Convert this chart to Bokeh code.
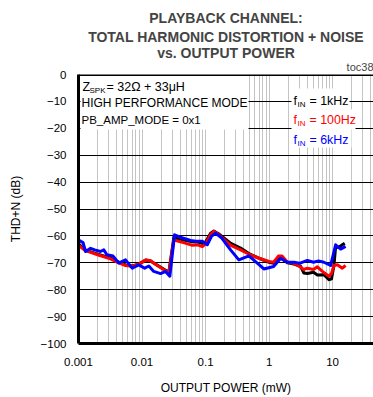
from bokeh.plotting import figure
from bokeh.models import FixedTicker, Span, Label, BoxAnnotation, Title
from bokeh.embed import file_html
from bokeh.resources import INLINE

# ---------------- data ----------------
x_1k = [0.001, 0.00129, 0.002, 0.003, 0.0043, 0.0055, 0.007, 0.0089, 0.0114, 0.0135,
        0.0163, 0.0264, 0.0317, 0.045, 0.062, 0.075, 0.089, 0.1, 0.12, 0.135,
        0.16, 0.25, 0.356, 0.5, 0.73, 1.0, 1.18, 1.4, 1.6, 1.94,
        2.46, 3.13, 3.53, 4.0, 5.0, 5.75, 7.3, 8.75, 9.6, 10.5,
        11.15, 12.5, 14.2, 15.5]
y_1k = [-63.0, -65.3, -66.8, -68.0, -69.7, -70.8, -71.2, -70.5, -69.0, -69.2,
        -70.5, -73.5, -60.5, -61.5, -62.2, -62.3, -62.8, -62.3, -59.0, -58.2,
        -59.2, -62.8, -64.5, -66.8, -68.5, -69.8, -70.2, -68.0, -68.5, -70.0,
        -70.5, -71.3, -73.8, -74.0, -73.5, -74.5, -74.4, -76.3, -76.0, -71.0,
        -64.0, -64.2, -63.3, -62.7]

x_100 = [0.001, 0.00129, 0.002, 0.003, 0.0043, 0.0055, 0.007, 0.0089, 0.0114, 0.0135,
         0.0163, 0.0264, 0.0317, 0.045, 0.062, 0.075, 0.089, 0.1, 0.12, 0.135,
         0.16, 0.25, 0.356, 0.5, 0.73, 1.0, 1.18, 1.4, 1.6, 1.94,
         2.46, 3.1, 3.5, 4.0, 5.0, 5.75, 6.9, 8.75, 9.6, 10.5,
         11.9, 14.2, 16.0]
y_100 = [-63.5, -65.5, -67.0, -68.3, -70.0, -71.0, -71.3, -70.5, -69.0, -69.2,
         -70.5, -73.8, -61.5, -62.5, -63.5, -63.3, -64.0, -63.0, -59.5, -58.3,
         -59.5, -63.5, -65.2, -67.0, -68.5, -69.5, -69.8, -67.5, -67.5, -69.8,
         -70.2, -71.5, -72.5, -72.0, -72.5, -71.5, -73.2, -75.0, -74.0, -71.0,
         -70.7, -72.0, -71.0]

x_6k = [0.001, 0.00118, 0.00129, 0.00155, 0.0018, 0.00222, 0.0025, 0.0028, 0.0035, 0.0043,
        0.0055, 0.007, 0.0089, 0.011, 0.0128, 0.0153, 0.0196, 0.0234, 0.0274, 0.0325,
        0.04, 0.058, 0.07, 0.089, 0.1064, 0.125, 0.144, 0.18, 0.2475, 0.334,
        0.481, 0.652, 0.828, 1.18, 1.52, 1.94, 2.46, 3.0, 4.0, 5.0,
        6.0, 7.3, 9.3, 11.15, 13.4, 16.0]
y_6k = [-61.5, -62.5, -65.8, -64.6, -65.2, -65.8, -65.2, -67.0, -67.5, -70.1,
        -68.9, -72.0, -70.8, -72.0, -71.2, -73.2, -74.0, -73.2, -75.0, -59.6,
        -60.5, -61.7, -62.0, -62.0, -63.3, -60.0, -59.0, -60.8, -65.2, -68.9,
        -67.4, -70.1, -72.3, -71.4, -68.3, -69.8, -69.8, -70.2, -69.1, -69.8,
        -69.3, -69.8, -71.0, -63.3, -64.9, -63.9]

x_ticks = [0.001, 0.01, 0.1, 1, 10]
x_tick_labels = ["0.001", "0.01", "0.1", "1", "10"]
y_ticks = [-100, -90, -80, -70, -60, -50, -40, -30, -20, -10, 0]
x_grid = [m * d for d in [0.001, 0.01, 0.1, 1, 10] for m in range(1, 10)]

title_lines = ["PLAYBACK CHANNEL:", "TOTAL HARMONIC DISTORTION + NOISE", "vs. OUTPUT POWER"]

FONT = "Liberation Sans"
FL, FB = 78, 344  # frame left / bottom on the page


def sx(px):
    return px - FL


def sy(py):
    return FB - py


p = figure(width=373, height=397, x_axis_type="log", x_range=(0.001, 44),
           y_range=(-100, 0), output_backend="svg", toolbar_location=None,
           min_border_left=78, min_border_right=0, min_border_top=74,
           min_border_bottom=53)
p.outline_line_color = None
p.background_fill_color = "white"

# titles: the first one added sits closest to the frame
p.add_layout(Title(text="toc38", align="right", text_font=FONT, text_font_size="11px",
                   text_font_style="normal", standoff=2.5, offset=0), "above")
for line, so in zip(reversed(title_lines), [-7.5, 3, 0]):
    p.add_layout(Title(text=line, align="center", text_font=FONT,
                       text_font_size="14px", text_font_style="bold",
                       standoff=so, offset=3), "above")
p.add_layout(Title(text=" ", text_font_size="1px", standoff=3), "above")

# axes
for ax in (p.xaxis, p.yaxis):
    ax.major_tick_line_color = None
    ax.minor_tick_line_color = None
    ax.major_tick_out = 0
    ax.major_tick_in = 0
    ax.minor_tick_out = 0
    ax.minor_tick_in = 0
    ax.axis_line_width = 3
    ax.axis_line_color = "black"
    ax.major_label_text_font = FONT
    ax.major_label_text_font_size = "11.5px"
    ax.major_label_text_color = "black"
    ax.axis_label_text_font = FONT
    ax.axis_label_text_font_size = "12px"
    ax.axis_label_text_font_style = "normal"
    ax.axis_label_text_color = "black"

p.xaxis.ticker = FixedTicker(ticks=x_ticks)
p.xaxis.major_label_overrides = {t: l for t, l in zip(x_ticks, x_tick_labels)}
p.xaxis.major_label_standoff = 14
p.xaxis.axis_label = "OUTPUT POWER (mW)"
p.xaxis.axis_label_standoff = 12
p.yaxis.ticker = FixedTicker(ticks=y_ticks)
p.yaxis.major_label_standoff = 12
p.yaxis.axis_label = "THD+N (dB)"
p.yaxis.axis_label_standoff = 15

p.xgrid.ticker = FixedTicker(ticks=x_grid)
p.xgrid.grid_line_color = "#c4c4c4"
p.xgrid.grid_line_width = 1
p.ygrid.ticker = FixedTicker(ticks=y_ticks)
p.ygrid.grid_line_color = "black"
p.ygrid.grid_line_width = 1

p.add_layout(Span(location=0, dimension="width", line_color="black", line_width=3))


# white boxes behind annotation text
def wbox(l, r, t, b):
    p.add_layout(BoxAnnotation(left=sx(l), right=sx(r), top=sy(t), bottom=sy(b),
                               left_units="screen", right_units="screen",
                               top_units="screen", bottom_units="screen",
                               fill_color="white", fill_alpha=1, line_color=None,
                               level="underlay"))


wbox(80, 248, 76, 130)
wbox(291, 349, 89, 110)
wbox(291, 355, 110, 130)
wbox(291, 351, 130, 148)

# series
p.line(x_1k, y_1k, line_color="black", line_width=3, line_join="round")
p.line(x_100, y_100, line_color="#ff0000", line_width=3, line_join="round")
p.line(x_6k, y_6k, line_color="#0000ff", line_width=3, line_join="round")


def lab(text, px, py, size="12px", color="black", align="left", style="normal"):
    p.add_layout(Label(x=sx(px), y=sy(py), x_units="screen", y_units="screen",
                       text=text, text_font=FONT, text_font_size=size,
                       text_color=color, text_align=align, text_baseline="middle",
                       text_font_style=style))


# conditions
lab("Z", 82, 87, size="12.5px")
lab("SPK", 89, 91, size="8px")
lab("= 32Ω + 33μH", 106, 87, size="12.5px")
lab("HIGH PERFORMANCE MODE", 81, 103.5, size="12px")
lab("PB_AMP_MODE = 0x1", 81, 120.5, size="11.5px")

# legend
for (val, col, yy) in [("= 1kHz", "black", 101), ("= 100Hz", "#ff0000", 120), ("= 6kHz", "#0000ff", 140)]:
    lab("f", 293, yy, size="12.4px", color=col)
    lab("IN", 297, yy + 4, size="8px", color=col)
    lab(val, 309, yy, size="12.4px", color=col)

open("out.html", "w").write(file_html(p, INLINE))
